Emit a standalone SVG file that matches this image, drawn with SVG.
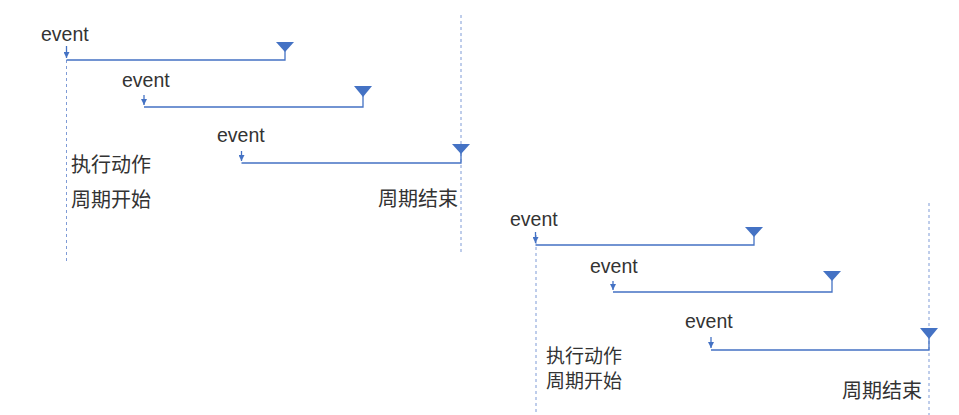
<svg xmlns="http://www.w3.org/2000/svg" width="959" height="415" viewBox="0 0 959 415">
<style>
.ev{font-family:"Liberation Sans","Noto Sans",sans-serif;font-size:19.5px;fill:#333}
.cn{font-family:"Noto Sans CJK SC","Noto Sans",sans-serif;font-size:20px;fill:#333}
.cn2{font-family:"Noto Sans CJK SC","Noto Sans",sans-serif;font-size:19px;fill:#333}
.dash{stroke:#7f9bd6;stroke-width:1;stroke-dasharray:3 3;fill:none}
.ln{stroke:#4472c4;stroke-width:1.3;fill:none}
.tri{fill:#4472c4}
</style>
<defs>
<marker id="ah" viewBox="0 0 6 6" refX="6" refY="3" markerWidth="6" markerHeight="6" markerUnits="userSpaceOnUse" orient="auto">
<path d="M0,0 L6,3 L0,6 Z" fill="#4472c4"/>
</marker>
</defs>
<g id="guides">
<line class="dash" x1="66.5" y1="48" x2="66.5" y2="262"/>
<line class="dash" x1="461" y1="15" x2="461" y2="255"/>
<line class="dash" x1="536" y1="235" x2="536" y2="415"/>
<line class="dash" x1="929" y1="203" x2="929" y2="415"/>
</g>
<g id="connectors">
<line class="ln" x1="66.5" y1="46" x2="66.5" y2="58" marker-end="url(#ah)"/>
<polyline class="ln" points="66.5,60 285,60 285,48"/>
<line class="ln" x1="144" y1="95" x2="144" y2="105" marker-end="url(#ah)"/>
<polyline class="ln" points="144,107 363,107 363,93"/>
<line class="ln" x1="241.5" y1="151" x2="241.5" y2="161" marker-end="url(#ah)"/>
<polyline class="ln" points="241.5,163 461,163 461,150"/>
<line class="ln" x1="535.5" y1="232" x2="535.5" y2="243" marker-end="url(#ah)"/>
<polyline class="ln" points="535.5,245 754,245 754,233"/>
<line class="ln" x1="613" y1="281" x2="613" y2="290" marker-end="url(#ah)"/>
<polyline class="ln" points="613,292 832,292 832,277"/>
<line class="ln" x1="711" y1="337" x2="711" y2="348" marker-end="url(#ah)"/>
<polyline class="ln" points="711,350 929,350 929,335"/>
</g>
<g id="ends">
<polygon class="tri" points="276,42 294,42 285,52"/>
<polygon class="tri" points="354,86 372,86 363,97"/>
<polygon class="tri" points="452,144 470,144 461,154"/>
<polygon class="tri" points="745,227 763,227 754,237"/>
<polygon class="tri" points="823,271 841,271 832,281"/>
<polygon class="tri" points="920,328 938,328 929,339"/>
</g>
<g id="labels1">
<text class="ev" x="41" y="41">event</text>
<text class="ev" x="122" y="87">event</text>
<text class="ev" x="217" y="142">event</text>
<text class="cn" x="71" y="172">执行动作</text>
<text class="cn" x="71" y="207">周期开始</text>
<text class="cn" x="378" y="206">周期结束</text>
</g>
<g id="labels2">
<text class="ev" x="510" y="226">event</text>
<text class="ev" x="590" y="273">event</text>
<text class="ev" x="685" y="328">event</text>
<text class="cn2" x="546" y="363">执行动作</text>
<text class="cn2" x="546" y="388">周期开始</text>
<text class="cn" x="842" y="398">周期结束</text>
</g>
</svg>
